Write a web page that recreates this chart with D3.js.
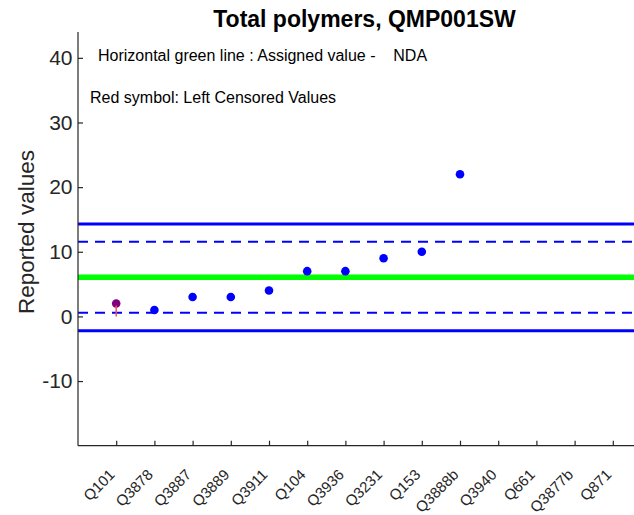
<!DOCTYPE html>
<html><head><meta charset="utf-8">
<script src="https://cdn.jsdelivr.net/npm/d3@7/dist/d3.min.js"></script>
<style>body{margin:0;background:#fff;} svg{display:block;}</style>
</head><body>
<svg id="c" width="634" height="515"></svg>
<script>
const categories = ["Q101","Q3878","Q3887","Q3889","Q3911","Q104","Q3936","Q3231","Q153","Q3888b","Q3940","Q661","Q3877b","Q871"];
const values = [2, 1, 3, 3, 4, 7, 7, 9, 10, 22, null, null, null, null];
const censored = [true, false, false, false, false, false, false, false, false, false, false, false, false, false];
const yTicks = [-10, 0, 10, 20, 30, 40];
const assignedValue = 6.05;
const sigma = 2.75;
const yDomain = [-20, 44];
const xDomain = [0, 15];

(function(){
const svg = d3.select("#c");
const mLeft = 78, mTop = 32, mBottom = 445.7, mRight = 651;
const x = d3.scaleLinear().domain(xDomain).range([mLeft, mRight]);
const y = d3.scaleLinear().domain(yDomain).range([mBottom, mTop]);
const axisColor = "#262626";
const font = "Arial, 'Liberation Sans', sans-serif";

svg.append("defs").append("clipPath").attr("id","pc")
  .append("rect").attr("x", mLeft).attr("y", mTop).attr("width", mRight-mLeft).attr("height", mBottom-mTop);
const plot = svg.append("g").attr("clip-path","url(#pc)");

const refs = [
  {v: assignedValue + 3*sigma, c:"#0000ff", w:3, d:null},
  {v: assignedValue + 2*sigma, c:"#0000ff", w:2, d:"10,7"},
  {v: assignedValue, c:"#00ff00", w:5.5, d:null},
  {v: assignedValue - 2*sigma, c:"#0000ff", w:2, d:"10,7"},
  {v: assignedValue - 3*sigma, c:"#0000ff", w:3, d:null}
];
plot.selectAll("line.ref").data(refs).enter().append("line")
  .attr("x1", mLeft).attr("x2", 634)
  .attr("y1", d=>y(d.v)).attr("y2", d=>y(d.v))
  .attr("stroke", d=>d.c).attr("stroke-width", d=>d.w)
  .attr("stroke-dasharray", d=>d.d);

const pts = categories.map((c,i)=>({c, i:i+1, v:values[i], cen:censored[i]})).filter(d=>d.v!==null);
plot.selectAll("circle.pt").data(pts).enter().append("circle")
  .attr("cx", d=>x(d.i)).attr("cy", d=>y(d.v)).attr("r", 4.3)
  .attr("fill", d=>d.cen ? "#800080" : "#0000ff");
plot.selectAll("line.cen").data(pts.filter(d=>d.cen)).enter().append("line")
  .attr("x1", d=>x(d.i)).attr("x2", d=>x(d.i))
  .attr("y1", d=>y(d.v)+2).attr("y2", d=>y(0))
  .attr("stroke", "#ff4d4d").attr("stroke-width", 1.5);

const yAxis = svg.append("g").attr("transform", `translate(${mLeft},0)`)
  .call(d3.axisLeft(y).tickValues(yTicks).tickSize(-5).tickPadding(5.5).tickFormat(d=>String(d)));
yAxis.select(".domain").attr("stroke", axisColor).attr("stroke-width", 1.2).attr("d", `M0,${mTop}V${mBottom}`);
yAxis.selectAll(".tick line").attr("stroke", axisColor).attr("stroke-width", 1.2);
yAxis.selectAll(".tick text").attr("fill", axisColor).style("font-family", font).style("font-size", "21px");

const xAxis = svg.append("g").attr("transform", `translate(0,${mBottom})`)
  .call(d3.axisBottom(x).tickValues(categories.map((c,i)=>i+1)).tickSize(-5).tickFormat((d)=>categories[d-1]));
xAxis.select(".domain").attr("stroke", axisColor).attr("stroke-width", 1.2).attr("d", `M${mLeft},0H${mRight}`);
xAxis.selectAll(".tick line").attr("stroke", axisColor).attr("stroke-width", 1.2);
xAxis.selectAll(".tick text").attr("fill", axisColor).style("font-family", font).style("font-size", "15px")
  .attr("text-anchor", "end").attr("dy", null).attr("y", 0)
  .attr("transform", "translate(-1,30) rotate(-45)");

svg.append("text").attr("x", (x.range()[0]+x.range()[1])/2).attr("y", 27).attr("text-anchor","middle")
  .style("font-family", font).style("font-size","23px").style("font-weight","bold").attr("fill","#000")
  .text("Total polymers, QMP001SW");
svg.append("text").attr("x", 98).attr("y", 61)
  .style("font-family", font).style("font-size","16px").attr("fill","#000")
  .style("white-space","pre")
  .text("Horizontal green line : Assigned value -    NDA");
svg.append("text").attr("x", 90).attr("y", 103)
  .style("font-family", font).style("font-size","16px").attr("fill","#000")
  .text("Red symbol: Left Censored Values");
svg.append("text").attr("transform", `translate(34,232) rotate(-90)`).attr("text-anchor","middle")
  .style("font-family", font).style("font-size","22.5px").attr("fill", axisColor)
  .text("Reported values");
})();
</script>
</body></html>
